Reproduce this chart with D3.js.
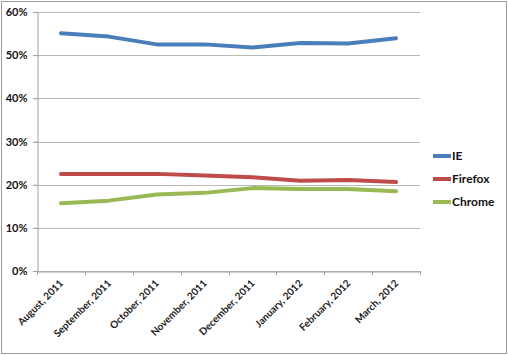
<!DOCTYPE html>
<html><head><meta charset="utf-8">
<script src="https://cdn.jsdelivr.net/npm/d3@7"></script>
<style>body{margin:0;background:#fff}svg{display:block}text{font-family:Lato,"Open Sans",sans-serif}</style>
</head><body>
<script>
const months = ["August, 2011","September, 2011","October, 2011","November, 2011","December, 2011","January, 2012","February, 2012","March, 2012"];
const ie      = [55.1, 54.3, 52.5, 52.5, 51.8, 52.8, 52.7, 53.9];
const firefox = [22.5, 22.5, 22.5, 22.1, 21.7, 20.9, 21.1, 20.6];
const chrome  = [15.7, 16.3, 17.7, 18.1, 19.2, 19.0, 19.0, 18.5];
const yTicks = [0, 10, 20, 30, 40, 50, 60];
const seriesNames = ["IE", "Firefox", "Chrome"];
const colors = ["#4a7ebb", "#be4b48", "#98b954"];
const seriesData = [ie, firefox, chrome];

(function () {
const W = 508, H = 355;
const svg = d3.select("body").append("svg").attr("width", W).attr("height", H);
svg.append("rect").attr("x", 1.5).attr("y", 1.5).attr("width", W - 3).attr("height", H - 3)
  .attr("fill", "#fff").attr("stroke", "#9a9a9a");

const mLeft = 37, mRight = 420, mTop = 12, mBottom = 271;
const x = d3.scaleBand().domain(months).range([mLeft, mRight]);
const y = d3.scaleLinear().domain([0, 60]).range([mBottom, mTop]);

// gridlines
svg.append("g").selectAll("line").data(yTicks).join("line")
  .attr("x1", mLeft - 4).attr("x2", mRight)
  .attr("y1", d => Math.round(y(d)) + 0.5).attr("y2", d => Math.round(y(d)) + 0.5)
  .attr("stroke", "#b8b8b8").attr("stroke-width", 1);

// y axis
const yAxis = svg.append("g").attr("transform", `translate(${mLeft + 0.5},0)`)
  .call(d3.axisLeft(y).tickValues(yTicks).tickFormat(d => d + "%").tickSize(4).tickPadding(6));
yAxis.select(".domain").attr("stroke", "#a0a0a0");
yAxis.selectAll(".tick line").attr("stroke", "#a0a0a0");
yAxis.selectAll("text").attr("font-size", 11).attr("font-weight", "bold").attr("fill", "#111");

// x axis
const xAxis = svg.append("g").attr("transform", `translate(0,${Math.round(mBottom) + 0.5})`)
  .call(d3.axisBottom(x).tickSize(0).tickFormat(""));
xAxis.select(".domain").attr("stroke", "#a0a0a0");
const bounds = months.map(m => x(m)).concat([mRight]);
svg.append("g").selectAll("line").data(bounds).join("line")
  .attr("x1", d => Math.round(d) + 0.5).attr("x2", d => Math.round(d) + 0.5)
  .attr("y1", mBottom).attr("y2", mBottom + 4).attr("stroke", "#a0a0a0");

svg.append("g").selectAll("text").data(months).join("text")
  .attr("transform", d => `translate(${x(d) + x.bandwidth() / 2 + 3},${mBottom + 13}) rotate(-45)`)
  .attr("text-anchor", "end").attr("font-size", 10).attr("font-weight", "bold").attr("fill", "#1a1a1a")
  .text(d => d);

// lines
const line = d3.line().x((d, i) => x(months[i]) + x.bandwidth() / 2).y(d => y(d));
svg.append("g").selectAll("path").data(seriesData).join("path")
  .attr("d", d => line(d)).attr("fill", "none")
  .attr("stroke", (d, i) => colors[i]).attr("stroke-width", 4)
  .attr("stroke-linecap", "round").attr("stroke-linejoin", "round");

// legend
const lg = svg.append("g").selectAll("g").data(seriesNames).join("g")
  .attr("transform", (d, i) => `translate(433,${156 + i * 23})`);
lg.append("line").attr("x1", 0).attr("x2", 18).attr("y1", 0).attr("y2", 0)
  .attr("stroke", (d, i) => colors[i]).attr("stroke-width", 4);
lg.append("text").attr("x", 19).attr("y", 0).attr("dy", "0.36em")
  .attr("font-size", 12).attr("font-weight", "bold").attr("fill", "#111").text(d => d);
})();
</script>
</body></html>
